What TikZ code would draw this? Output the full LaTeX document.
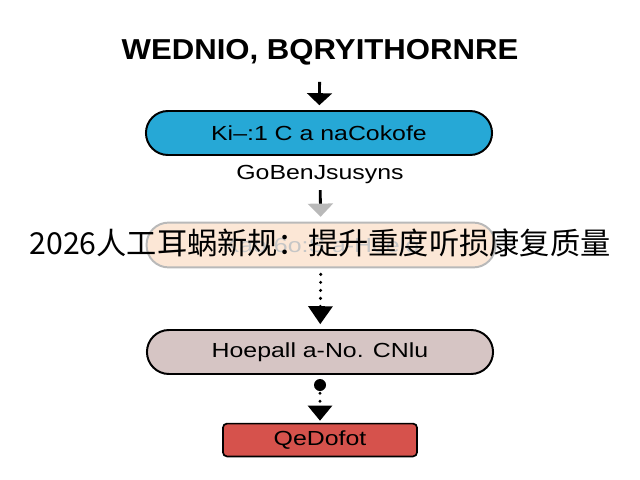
\documentclass[tikz,border=0pt]{standalone}
\usepackage{fontspec}
\setmainfont{Liberation Sans}
\newfontfamily\cjk{Noto Sans CJK SC}
\usetikzlibrary{arrows.meta}
\definecolor{pillblue}{RGB}{38,168,214}
\definecolor{pillpeach}{RGB}{252,231,214}
\definecolor{pillmauve}{RGB}{214,197,196}
\definecolor{boxred}{RGB}{214,82,76}
\newcommand{\wide}[1]{\scalebox{1.22}[1]{#1}}

\begin{document}
\begin{tikzpicture}[x=0.025cm, y=-0.025cm,
		pill/.style={draw, line width=1.4pt, rounded corners=0.55cm, minimum width=8.65cm, minimum height=1.1cm, inner sep=0pt, font=\fontsize{14.5}{16}\selectfont},
		flow/.style={line width=2pt, -{Triangle[width=0.62cm, length=0.3cm]}},
		dots/.style={line width=2.4pt, line cap=round, dash pattern=on 0pt off 0.2cm}]
			%%%%% START %%%%%
			
			\useasboundingbox[fill=white] (0, 0) rectangle (640, 480);
			
			\node[font=\bfseries\fontsize{20.5}{24}\selectfont] (title) at (320, 52) {\scalebox{1.08}[1]{WEDNIO, BQRYITHORNRE}};
			
			\node[pill, fill=pillblue] (stepa) at (319, 133) {\wide{Ki–:1 C a naCokofe}};
			\node[font=\fontsize{14.5}{16}\selectfont] (note) at (320, 174) {\wide{GoBenJsusyns}};
			
			\node[pill, draw=gray!55, fill=pillpeach, minimum width=8.72cm, minimum height=1.12cm] (stepb) at (321, 245) {\textcolor{gray!45}{\wide{Kao 6o:S a-Heelo}}};
			
			\node[pill, fill=pillmauve] (stepc) at (320, 352) {\wide{Hoepall a-No. CNlu}};
			\node[circle, fill=black, inner sep=0pt, minimum size=0.3cm] (dot) at (320, 385) {};
			
			\node[draw, line width=1.2pt, fill=boxred, rounded corners=0.1cm, minimum width=4.85cm, minimum height=0.82cm, font=\fontsize{14.5}{16}\selectfont] (stepd) at (320, 440) {\wide{QeDofot}};
			
			\draw[flow, shorten <=0.3cm, shorten >=0.12cm] (title) -- (stepa);
			\draw[line width=2pt, -{Triangle[width=0.62cm, length=0.33cm, color=gray!55]}, shorten <=0.05cm, shorten >=0.12cm] (note) -- (stepb);
			
			\draw[dots, -{Triangle[width=0.6cm, length=0.45cm]}, shorten <=0.15cm, shorten >=0.12cm] (stepb) -- (stepc);
			\draw[dots, -{Triangle[width=0.6cm, length=0.38cm]}, shorten <=0.05cm, shorten >=0.05cm] (dot) -- (stepd);
			
			\node[font=\cjk\fontsize{21.5}{24}\selectfont] (banner) at (320, 243) {2026人工耳蜗新规：提升重度听损康复质量};
			
			%%%%% END %%%%%
\end{tikzpicture}
\end{document}
